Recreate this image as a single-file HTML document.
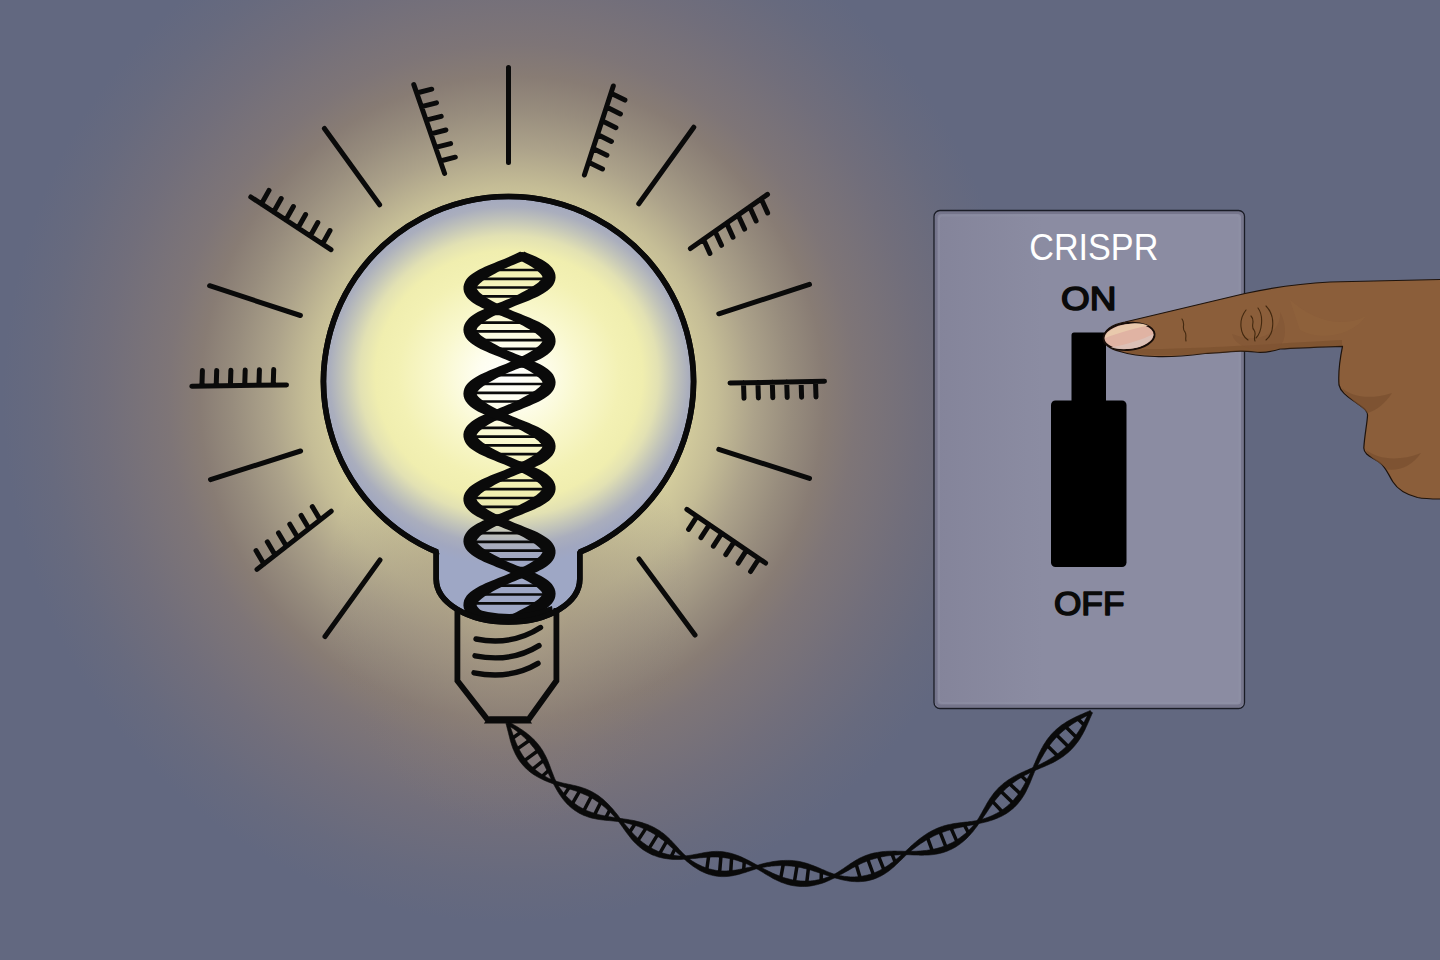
<!DOCTYPE html>
<html lang="en"><head><meta charset="utf-8"><title>CRISPR on/off switch</title>
<style>
html,body{margin:0;padding:0;background:#626880;}
body{width:1440px;height:960px;overflow:hidden;}
svg{display:block;}
text{font-family:"Liberation Sans",sans-serif;}
</style></head><body>
<svg width="1440" height="960" viewBox="0 0 1440 960">
<defs>
<radialGradient id="glow" gradientUnits="userSpaceOnUse" cx="512" cy="398" r="525" gradientTransform="translate(512 0) scale(0.97 1) translate(-512 0)">
<stop offset="0" stop-color="#e2dda6"/>
<stop offset="0.34" stop-color="#d4cd9d"/>
<stop offset="0.403" stop-color="#c5bd96"/>
<stop offset="0.476" stop-color="#aca28a"/>
<stop offset="0.55" stop-color="#978c7d"/>
<stop offset="0.613" stop-color="#887c74"/>
<stop offset="0.675" stop-color="#7e7577"/>
<stop offset="0.802" stop-color="#716e7b"/>
<stop offset="0.915" stop-color="#676a7e"/>
<stop offset="1" stop-color="#626880"/>
</radialGradient>
<radialGradient id="glow2" gradientUnits="userSpaceOnUse" cx="508" cy="600" r="180" gradientTransform="translate(0 600) scale(1 1.28) translate(0 -600)">
<stop offset="0" stop-color="#b0a388" stop-opacity="0.63"/>
<stop offset="0.35" stop-color="#9a8c7c" stop-opacity="0.52"/>
<stop offset="0.7" stop-color="#8a7d76" stop-opacity="0.25"/>
<stop offset="1" stop-color="#807678" stop-opacity="0"/>
</radialGradient>
<radialGradient id="bulb" gradientUnits="userSpaceOnUse" cx="509" cy="376" r="202" gradientTransform="translate(0 376) scale(1 0.94) translate(0 -376)">
<stop offset="0" stop-color="#ffffff"/>
<stop offset="0.15" stop-color="#fefef0"/>
<stop offset="0.35" stop-color="#f9f8ce"/>
<stop offset="0.55" stop-color="#f3f1b4"/>
<stop offset="0.66" stop-color="#f0eeaf"/>
<stop offset="0.74" stop-color="#e2e1b3"/>
<stop offset="0.82" stop-color="#c3c5b9"/>
<stop offset="0.89" stop-color="#aaaebd"/>
<stop offset="0.95" stop-color="#a1a7c0"/>
<stop offset="1" stop-color="#9ea7c5"/>
</radialGradient>
<linearGradient id="plate" x1="0" y1="0" x2="1" y2="0">
<stop offset="0" stop-color="#84849a"/>
<stop offset="0.35" stop-color="#8b8ca2"/>
<stop offset="1" stop-color="#8b8ca2"/>
</linearGradient>
<clipPath id="bulbclip"><path d="M437.2 552.2 A185 185 0 1 1 579.8 552.2 V579 C579.8 602 550 622 508.5 622 C467 622 436.2 602 436.2 579 V553.4 Z"/></clipPath>
</defs>
<rect width="1440" height="960" fill="#626880"/>
<rect width="1440" height="960" fill="url(#glow)"/>
<rect width="1440" height="960" fill="url(#glow2)"/>
<!-- bulb -->
<path id="bulbshape" d="M437.2 552.2 A185 185 0 1 1 579.8 552.2 V579 C579.8 602 550 622 508.5 622 C467 622 436.2 602 436.2 579 V553.4 Z" fill="url(#bulb)" stroke="#0a0a0a" stroke-width="5.6" stroke-linejoin="bevel"/>
<g clip-path="url(#bulbclip)"><path d="M490.6 270H545.6M475.8 278.8H548.8M470 287.5H541.5M474.7 296.3H525.7M488.7 305.1H505.6M486.5 313.9H508.2M473.6 322.6H528.1M470.2 331.4H543M477.3 340.2H549M492.9 348.9H544.5M513 357.7H530.7M511.2 366.5H532.2M491.3 375.2H545.3M476.3 384H548.9M470 392.8H542M474.3 401.5H526.4M488 410.3H506.4M487.2 419.1H507.4M473.9 427.9H527.3M470.1 436.6H542.5M476.8 445.4H548.9M492.2 454.2H544.9M512.2 462.9H531.4M512.1 471.7H531.5M492.1 480.5H544.9M476.7 489.2H548.9M470.1 498H542.4M474 506.8H527.2M487.3 515.6H507.2M487.9 524.3H506.5M474.3 533.1H526.5M470.1 541.9H542M476.3 550.6H548.9M491.4 559.4H545.2M511.3 568.2H532.1M512.9 577H530.8M492.8 585.7H544.5M477.2 594.5H549M470.2 603.3H542.9" fill="none" stroke="#0a0a0a" stroke-width="2.7"/><path d="M520 260.4L523 262L525.8 263.5L528.6 265L531.1 266.5L533.4 268L535.5 269.4L537.3 270.8L538.9 272.2L540.2 273.4L541.1 274.5L541.8 275.4L542.2 276.2L542.4 276.6L542.4 276.9L542.4 277L542.4 277.2L542.3 277.5L542.1 278.1L541.6 278.9L540.8 279.9L539.7 281.1L538.3 282.4L536.6 283.7L534.7 285.1L532.5 286.6L530.1 288.1L527.5 289.6L524.7 291.1L521.8 292.6L518.7 294.2L515.6 295.7L512.3 297.2L509.1 298.7L505.7 300.1L502.4 301.4L499 302.8L495.7 304.1L492.5 305.4L489.3 306.7L486.2 308L483.3 309.4L480.5 310.7L477.8 312.1L475.3 313.5L473 315L470.9 316.6L468.9 318.3L467.2 320.2L465.7 322.2L464.5 324.6L463.7 327.1L463.4 329.8L463.7 332.5L464.5 335L465.7 337.4L467.2 339.4L468.9 341.3L470.9 343L473 344.6L475.3 346.1L477.8 347.5L480.5 348.9L483.3 350.2L486.2 351.6L489.3 352.9L492.5 354.2L495.7 355.5L499 356.8L502.4 358.2L505.7 359.5L509.1 360.9L512.3 362.4L515.6 363.9L518.7 365.4L521.8 367L524.7 368.5L527.5 370L530.1 371.5L532.5 373L534.7 374.5L536.6 375.9L538.3 377.2L539.7 378.5L540.8 379.7L541.6 380.7L542.1 381.5L542.3 382.1L542.4 382.4L542.4 382.6L542.4 382.7L542.4 383L542.2 383.4L541.8 384.2L541.1 385.1L540.2 386.2L538.9 387.4L537.3 388.8L535.5 390.2L533.4 391.6L531.1 393.1L528.6 394.6L525.8 396.1L523 397.6L520 399.2L516.9 400.7L513.7 402.2L510.4 403.7L507.1 405.1L503.7 406.5L500.4 407.8L497 409.2L493.8 410.5L490.6 411.8L487.5 413.1L484.5 414.4L481.6 415.8L478.9 417.1L476.3 418.5L473.9 420L471.7 421.6L469.7 423.2L467.8 425L466.2 427L464.9 429.2L463.9 431.6L463.4 434.3L463.5 437L464.1 439.6L465.1 442L466.5 444.2L468.2 446.2L470 447.9L472.1 449.5L474.4 451.1L476.8 452.5L479.4 453.9L482.1 455.3L485 456.6L488 458L491.2 459.3L494.4 460.6L497.7 461.9L501 463.2L504.4 464.6L507.7 465.9L511 467.4L514.3 468.9L517.5 470.4L520.6 471.9L523.5 473.5L526.4 475L529 476.5L531.5 478L533.8 479.5L535.9 480.9L537.6 482.3L539.2 483.6L540.4 484.8L541.3 485.9L541.9 486.8L542.2 487.5L542.4 487.9L542.4 488.1L542.4 488.2L542.4 488.4L542.3 488.8L542 489.4L541.5 490.3L540.6 491.3L539.5 492.5L538 493.8L536.3 495.2L534.3 496.6L532 498.1L529.6 499.6L527 501.1L524.2 502.6L521.2 504.1L518.1 505.7L515 507.2L511.7 508.7L508.4 510.2L505.1 511.5L501.7 512.9L498.4 514.2L495.1 515.5L491.9 516.8L488.7 518.2L485.7 519.5L482.7 520.8L480 522.2L477.3 523.6L474.9 525L472.6 526.5L470.5 528.1L468.6 529.8L466.9 531.7L465.4 533.9L464.3 536.2L463.6 538.8L463.4 541.5L463.8 544.2L464.7 546.7L465.9 549L467.5 551L469.3 552.8L471.3 554.5L473.4 556.1L475.8 557.5L478.3 559L481 560.3L483.8 561.7L486.8 563L489.9 564.3L493.1 565.6L496.3 567L499.6 568.3L503 569.6L506.3 571L509.7 572.4L513 573.9L516.2 575.4L519.3 576.9L522.3 578.4L525.2 580L528 581.5L530.5 583L532.9 584.5L535.1 585.9L536.9 587.3L538.6 588.7L539.9 589.9L541 591.1L541.7 592.1L542.1 592.8L542.3 593.4L542.4 593.7L542.4 593.8L542.4 593.9L542.3 594.2L542.1 594.7L541.7 595.5L541 596.5L540 597.6L538.6 598.9L537 600.2L535.1 601.6L533 603.1L530.6 604.6L528.1 606.1L525.3 607.6L522.4 609.1L519.4 610.6L516.3 612.2L513.1 613.7L509.8 615.2L506.5 616.6L503.1 617.9L499.7 619.3L496.4 620.6L500.3 629.4L503.5 627.9L506.7 626.4L510 624.9L513.3 623.5L516.7 622.1L520 620.8L523.4 619.5L526.6 618.2L529.8 616.9L532.8 615.6L535.8 614.2L538.6 612.9L541.2 611.5L543.7 610L546 608.5L548.2 607L550.1 605.3L551.9 603.4L553.4 601.3L554.6 599L555.3 596.5L555.6 593.8L555.3 591.1L554.5 588.5L553.3 586.2L551.8 584.1L550.1 582.3L548.1 580.6L546 579L543.6 577.5L541.1 576.1L538.5 574.7L535.7 573.3L532.7 572L529.7 570.7L526.5 569.4L523.2 568.1L519.9 566.7L516.6 565.4L513.2 564.1L509.9 562.7L506.6 561.2L503.4 559.7L500.2 558.1L497.2 556.6L494.3 555.1L491.5 553.6L488.9 552.1L486.5 550.6L484.3 549.1L482.4 547.7L480.7 546.3L479.3 545.1L478.2 543.9L477.4 542.9L476.9 542.1L476.7 541.5L476.6 541.2L476.6 541L476.6 540.9L476.6 540.6L476.8 540.2L477.2 539.4L477.9 538.5L478.8 537.4L480.1 536.1L481.7 534.8L483.5 533.4L485.6 532L488 530.5L490.5 529L493.2 527.5L496.1 526L499.1 524.4L502.2 522.9L505.4 521.4L508.7 519.9L512 518.4L515.3 517.1L518.7 515.7L522 514.4L525.3 513.1L528.5 511.8L531.6 510.5L534.6 509.2L537.4 507.8L540.2 506.5L542.7 505L545.1 503.6L547.3 502L549.4 500.4L551.2 498.6L552.8 496.6L554.1 494.4L555.1 491.9L555.6 489.3L555.5 486.5L554.9 483.9L553.8 481.5L552.5 479.4L550.8 477.4L548.9 475.7L546.9 474L544.6 472.5L542.2 471L539.6 469.6L536.8 468.3L533.9 466.9L530.9 465.6L527.8 464.3L524.6 463L521.3 461.7L518 460.4L514.6 459L511.2 457.6L507.9 456.2L504.7 454.7L501.5 453.2L498.4 451.6L495.4 450.1L492.6 448.6L489.9 447.1L487.4 445.6L485.2 444.1L483.1 442.7L481.3 441.3L479.8 440L478.6 438.8L477.7 437.7L477.1 436.8L476.8 436.1L476.6 435.7L476.6 435.5L476.6 435.4L476.6 435.2L476.7 434.8L477 434.2L477.6 433.3L478.4 432.2L479.6 431.1L481 429.8L482.8 428.4L484.8 427L487 425.5L489.4 424L492.1 422.5L494.9 421L497.8 419.4L500.9 417.9L504.1 416.4L507.3 414.9L510.6 413.4L514 412L517.3 410.7L520.7 409.4L524 408L527.2 406.7L530.3 405.4L533.4 404.1L536.3 402.8L539.1 401.4L541.7 400L544.2 398.6L546.4 397.1L548.5 395.5L550.5 393.7L552.2 391.8L553.6 389.7L554.7 387.3L555.4 384.8L555.6 382L555.2 379.4L554.3 376.9L553.1 374.6L551.5 372.6L549.7 370.8L547.7 369.1L545.5 367.5L543.2 366L540.6 364.6L538 363.2L535.1 361.9L532.2 360.6L529.1 359.2L525.9 357.9L522.6 356.6L519.3 355.3L516 354L512.6 352.6L509.3 351.2L506 349.7L502.8 348.2L499.6 346.7L496.6 345.1L493.7 343.6L491 342.1L488.4 340.6L486.1 339.1L483.9 337.6L482 336.2L480.4 334.9L479.1 333.6L478 332.5L477.3 331.5L476.9 330.8L476.7 330.2L476.6 329.9L476.6 329.8L476.6 329.7L476.7 329.4L476.9 328.8L477.3 328.1L478 327.1L479.1 326L480.4 324.7L482 323.4L483.9 322L486.1 320.5L488.4 319L491 317.5L493.7 316L496.6 314.5L499.6 312.9L502.8 311.4L506 309.9L509.3 308.4L512.6 307L516 305.6L519.3 304.3L522.6 303L525.9 301.7L529.1 300.4L532.2 299L535.1 297.7L538 296.4L540.6 295L543.2 293.6L545.5 292.1L547.7 290.5L549.7 288.8L551.5 287L553.1 285L554.3 282.7L555.2 280.2L555.6 277.6L555.4 274.8L554.7 272.3L553.6 269.9L552.2 267.8L550.5 265.9L548.5 264.1L546.4 262.5L544.2 261L541.7 259.6L539.1 258.2L536.3 256.8L533.4 255.5L530.3 254.2L527.2 252.9L524 251.6Z" fill="#0a0a0a"/><path d="M520.4 251.5L517.3 253.1L514.1 254.6L510.9 256.1L507.6 257.5L504.2 258.9L500.8 260.2L497.5 261.6L494.2 262.9L491 264.2L487.9 265.5L484.9 266.8L482 268.2L479.3 269.5L476.7 270.9L474.3 272.4L472 273.9L470 275.6L468.1 277.3L466.4 279.3L465.1 281.5L464.1 283.9L463.5 286.5L463.5 289.2L464 291.9L465 294.3L466.3 296.5L467.9 298.5L469.8 300.3L471.8 301.9L474 303.5L476.4 304.9L479 306.3L481.7 307.7L484.6 309L487.6 310.4L490.7 311.7L493.9 313L497.2 314.3L500.5 315.6L503.9 317L507.2 318.3L510.6 319.8L513.8 321.3L517 322.8L520.1 324.3L523.1 325.8L526 327.4L528.7 328.9L531.2 330.4L533.5 331.9L535.6 333.3L537.4 334.7L539 336L540.2 337.3L541.2 338.4L541.8 339.3L542.2 340L542.4 340.5L542.4 340.7L542.4 340.8L542.4 341L542.3 341.3L542.1 341.9L541.5 342.8L540.7 343.8L539.6 344.9L538.2 346.2L536.5 347.6L534.6 349L532.4 350.5L530 352L527.4 353.5L524.6 355L521.6 356.5L518.6 358L515.4 359.6L512.2 361.1L508.9 362.5L505.6 364L502.2 365.3L498.9 366.6L495.5 367.9L492.3 369.3L489.1 370.6L486.1 371.9L483.2 373.2L480.4 374.6L477.7 376L475.2 377.4L472.9 378.9L470.8 380.5L468.8 382.2L467.1 384.1L465.6 386.1L464.4 388.5L463.7 391L463.4 393.7L463.7 396.4L464.5 399L465.7 401.3L467.2 403.3L469 405.2L471 406.9L473.1 408.4L475.4 409.9L477.9 411.4L480.6 412.8L483.4 414.1L486.4 415.4L489.4 416.8L492.6 418.1L495.8 419.4L499.2 420.7L502.5 422L505.9 423.4L509.2 424.8L512.5 426.3L515.7 427.8L518.9 429.3L521.9 430.8L524.8 432.4L527.6 433.9L530.2 435.4L532.6 436.9L534.8 438.3L536.7 439.7L538.4 441.1L539.7 442.4L540.8 443.5L541.6 444.5L542.1 445.3L542.3 445.9L542.4 446.2L542.4 446.4L542.4 446.5L542.4 446.8L542.2 447.3L541.8 448L541.1 448.9L540.1 450.1L538.8 451.3L537.3 452.6L535.4 454L533.3 455.5L531 456.9L528.4 458.4L525.7 460L522.8 461.5L519.8 463L516.7 464.5L513.5 466.1L510.3 467.6L506.9 469L503.6 470.4L500.2 471.7L496.9 473L493.6 474.3L490.4 475.6L487.3 476.9L484.3 478.3L481.5 479.6L478.8 481L476.2 482.4L473.8 483.9L471.6 485.4L469.6 487.1L467.8 488.9L466.2 490.9L464.9 493.1L463.9 495.6L463.4 498.2L463.5 500.9L464.1 503.6L465.2 506L466.6 508.1L468.3 510L470.1 511.8L472.2 513.4L474.5 514.9L476.9 516.4L479.5 517.8L482.3 519.2L485.1 520.5L488.2 521.8L491.3 523.1L494.5 524.4L497.8 525.8L501.1 527.1L504.5 528.4L507.9 529.8L511.2 531.3L514.4 532.8L517.6 534.3L520.7 535.8L523.7 537.3L526.5 538.9L529.2 540.4L531.6 541.9L533.9 543.3L535.9 544.8L537.7 546.2L539.2 547.5L540.4 548.7L541.3 549.7L541.9 550.6L542.3 551.3L542.4 551.7L542.4 551.9L542.4 552.1L542.4 552.2L542.3 552.6L542 553.3L541.4 554.1L540.6 555.2L539.4 556.4L537.9 557.7L536.2 559L534.2 560.5L531.9 561.9L529.5 563.4L526.8 564.9L524 566.5L521.1 568L518 569.5L514.8 571L511.6 572.5L508.3 574L504.9 575.4L501.6 576.8L498.2 578.1L494.9 579.4L491.7 580.7L488.6 582L485.5 583.3L482.6 584.7L479.8 586L477.2 587.4L474.8 588.9L472.5 590.4L470.4 592L468.5 593.7L466.8 595.6L465.4 597.8L464.2 600.1L463.6 602.7L463.4 605.4L463.8 608.1L464.7 610.6L466 612.9L467.6 614.9L469.3 616.7L471.3 618.4L473.5 619.9L475.9 621.4L478.4 622.8L481.1 624.2L484 625.6L486.9 626.9L490 628.2L493.2 629.5L497.3 620.5L494.4 619L491.6 617.4L489 615.9L486.6 614.4L484.4 613L482.4 611.6L480.8 610.2L479.3 608.9L478.2 607.8L477.4 606.7L476.9 605.9L476.7 605.3L476.6 605L476.6 604.8L476.6 604.7L476.6 604.5L476.8 604L477.2 603.3L477.8 602.3L478.8 601.2L480.1 600L481.6 598.7L483.5 597.3L485.5 595.8L487.8 594.4L490.4 592.9L493.1 591.3L495.9 589.8L498.9 588.3L502 586.8L505.2 585.3L508.5 583.8L511.8 582.3L515.2 580.9L518.5 579.6L521.9 578.3L525.1 577L528.3 575.7L531.5 574.4L534.4 573L537.3 571.7L540 570.3L542.6 568.9L545 567.4L547.2 565.9L549.3 564.2L551.1 562.5L552.7 560.5L554.1 558.3L555 555.8L555.5 553.2L555.5 550.5L554.9 547.8L553.9 545.4L552.5 543.2L550.9 541.3L549 539.5L547 537.9L544.7 536.4L542.3 534.9L539.7 533.5L537 532.1L534.1 530.8L531.1 529.5L527.9 528.2L524.7 526.9L521.4 525.5L518.1 524.2L514.7 522.9L511.4 521.5L508.1 520.1L504.8 518.6L501.6 517L498.5 515.5L495.6 514L492.7 512.5L490 510.9L487.5 509.4L485.3 508L483.2 506.5L481.4 505.1L479.9 503.8L478.7 502.6L477.7 501.5L477.1 500.6L476.8 499.9L476.6 499.5L476.6 499.3L476.6 499.2L476.6 499L476.7 498.6L477 498L477.5 497.1L478.4 496.1L479.5 494.9L481 493.6L482.7 492.3L484.7 490.8L486.9 489.4L489.3 487.9L492 486.4L494.8 484.8L497.7 483.3L500.8 481.8L503.9 480.3L507.2 478.8L510.5 477.3L513.8 475.9L517.2 474.5L520.5 473.2L523.8 471.9L527.1 470.6L530.2 469.3L533.2 468L536.2 466.6L538.9 465.3L541.6 463.9L544 462.4L546.3 460.9L548.5 459.3L550.4 457.6L552.1 455.7L553.6 453.6L554.7 451.3L555.4 448.7L555.6 446L555.2 443.3L554.4 440.8L553.1 438.5L551.6 436.5L549.8 434.6L547.8 433L545.6 431.4L543.3 429.9L540.8 428.5L538.1 427.1L535.3 425.7L532.3 424.4L529.2 423.1L526 421.8L522.8 420.5L519.5 419.2L516.1 417.8L512.8 416.5L509.4 415.1L506.1 413.6L502.9 412.1L499.8 410.5L496.8 409L493.9 407.5L491.1 406L488.5 404.4L486.2 403L484 401.5L482.1 400.1L480.5 398.8L479.1 397.5L478.1 396.4L477.3 395.4L476.9 394.6L476.7 394L476.6 393.7L476.6 393.6L476.6 393.5L476.7 393.2L476.8 392.7L477.3 391.9L478 390.9L479 389.8L480.3 388.6L481.9 387.2L483.8 385.8L486 384.4L488.3 382.9L490.9 381.4L493.6 379.9L496.5 378.3L499.5 376.8L502.6 375.3L505.8 373.8L509.1 372.3L512.4 370.9L515.8 369.5L519.2 368.2L522.5 366.8L525.7 365.5L528.9 364.2L532 362.9L535 361.6L537.8 360.2L540.5 358.9L543.1 357.4L545.4 356L547.6 354.4L549.6 352.7L551.4 350.9L553 348.9L554.3 346.6L555.2 344.2L555.6 341.5L555.4 338.8L554.8 336.2L553.7 333.8L552.2 331.7L550.5 329.8L548.6 328L546.5 326.4L544.3 324.9L541.8 323.4L539.2 322.1L536.4 320.7L533.5 319.4L530.5 318L527.3 316.7L524.1 315.4L520.8 314.1L517.5 312.8L514.1 311.4L510.8 310L507.5 308.6L504.2 307.1L501 305.6L498 304L495 302.5L492.2 301L489.6 299.5L487.1 298L484.9 296.5L482.8 295.1L481.1 293.7L479.6 292.4L478.5 291.2L477.6 290.1L477 289.3L476.7 288.6L476.6 288.2L476.6 288.1L476.6 287.9L476.6 287.7L476.7 287.3L477.1 286.6L477.7 285.8L478.6 284.7L479.8 283.5L481.3 282.2L483 280.8L485.1 279.4L487.3 277.9L489.8 276.4L492.5 274.9L495.3 273.4L498.3 271.8L501.3 270.3L504.5 268.8L507.8 267.3L511.1 265.8L514.4 264.4L517.8 263.1L521.1 261.8L524.4 260.5Z" fill="#0a0a0a"/><path d="M467 606 Q509 622 552 606 L556 630 H463 Z" fill="#0a0a0a"/><circle cx="522" cy="256.5" r="4.6" fill="#0a0a0a"/></g>
<path d="M437.2 552.2 A185 185 0 1 1 579.8 552.2 V579 C579.8 602 550 622 508.5 622 C467 622 436.2 602 436.2 579 V553.4 Z" fill="none" stroke="#0a0a0a" stroke-width="5.6" stroke-linejoin="bevel"/>
<!-- base -->
<path d="M457.4 608 V680.8 L487.5 719.5 H528.5 L556.4 680.8 V608" fill="none" stroke="#0a0a0a" stroke-width="5.8" stroke-linejoin="miter"/>
<path d="M483.8 723.6 L489.5 716.4 H526.5 L532.2 723.6 Z" fill="#0a0a0a"/>
<path d="M476 639 Q512 646 540.5 627.5 M475 655.8 Q511 663 539 645.6 M474 672.8 Q510 680 538 663.4" fill="none" stroke="#0a0a0a" stroke-width="5.4" stroke-linecap="round"/>
<path d="M508.5 67.5L508.5 162.5M324.4 128.5L379.6 204.8M693.8 127.2L638.8 203.8M209.6 285.7L300.4 315.5M809.5 284.4L718.8 313.8M210.5 479.6L300.6 451M718.8 449.4L809.5 478.4M380 560L325 636.5M639 559L695 635M413.8 84.6L444.6 173.5M416.7 93L431.7 89.2M421.4 106.6L436.5 102.8M426.1 120.2L441.2 116.4M430.9 133.8L445.9 130M435.6 147.4L450.6 143.6M440.3 161L455.3 157.2M613.3 86L584.4 175M611 93.2L624.9 100.1M606.5 107L620.4 113.9M602 120.8L615.9 127.7M597.5 134.6L611.4 141.5M593 148.4L606.9 155.2M588.6 162.2L602.5 169M250.8 197L331 249.6M261.4 204L269 190.4M273.6 212L281.2 198.5M285.8 220L293.4 206.5M298 228L305.6 214.5M310.3 236L317.8 222.5M322.5 244L330 230.5M767.5 194.4L690.4 248.5M761.2 198.8L767.6 212.9M749.7 206.9L756.1 221M738.1 215L744.6 229.1M726.6 223.1L733 237.2M715 231.2L721.5 245.3M703.5 239.3L709.9 253.4M191.8 386.2L286.5 384.9M201.9 386.1L202.4 370.6M216.2 385.9L216.7 370.4M230.4 385.7L230.9 370.2M244.7 385.5L245.2 370M258.9 385.3L259.4 369.8M273.2 385.1L273.7 369.6M824.5 381.3L730 383M815.5 381.5L816 397M801.1 381.7L801.6 397.2M786.7 382L787.2 397.5M772.3 382.2L772.8 397.7M757.9 382.5L758.4 398M743.5 382.8L744 398.3M257 569.4L331.2 511.2M263.9 564L256 550.6M275.2 555.2L267.3 541.8M286.4 546.3L278.5 533M297.7 537.5L289.8 524.2M309 528.7L301.1 515.4M320.2 519.9L312.3 506.6M765.6 563L686.9 509.4M759 558.5L750.6 571.5M746.6 550.1L738.2 563.1M734.2 541.6L725.8 554.6M721.8 533.2L713.4 546.2M709.4 524.7L701 537.7M697 516.3L688.6 529.3" fill="none" stroke="#0a0a0a" stroke-width="5.0" stroke-linecap="round"/>
<path d="M512.1 738.5L521.2 732M516.3 749.6L530.3 739.8M523.4 761.3L538.9 750M531.7 769.9L544.5 759.7M541.7 776.8L549.1 770M569.6 786.7L563.4 796.1M580.3 789.8L571.8 804.7M592 795L583.2 812M601.3 801.3L594 815.9M610.1 809.3L605.5 818.2M629.3 832.7L635.4 823.2M637.4 841.4L646.7 827.1M648.3 849.6L658.4 833.4M659.1 854.5L667.2 840.3M671 857.1L675.3 848.1M708.9 854.6L706.6 870.8M721.1 854.5L719.5 873.6M731.7 856.3L730.6 873.4M744.4 860.7L743.6 870.7M780.5 879.2L783.5 863.1M794.2 883L797.3 864.1M806.6 883.7L808.6 866.7M821.1 881.4L821.4 871.3M855.8 863.3L860.5 879M867.3 858L873.9 876M878 855L884.4 870.9M891.7 853.3L895.4 862.6M932.7 852L927.1 836.6M946.5 848.3L939.4 830.4M957.4 842.6L950.5 827M968.7 833.3L964 824.4M991.8 800.6L1002.9 812.5M1000.1 790.4L1013.8 803.8M1008.7 782.9L1021.2 794.6M1020.7 775.3L1028 782.3M1058.2 756.6L1046.7 745M1069.2 747.5L1055.6 734M1077.1 738.1L1064.9 726.1M1084.6 725.6L1077.5 718.5" fill="none" stroke="#0a0a0a" stroke-width="3.5"/><path d="M505.9 723.5L506.5 725.4L507 727.4L507.5 729.4L508 731.3L508.5 733.3L509 735.3L509.5 737.2L510 739.2L510.5 741.2L511.1 743.1L511.7 745L512.4 747L513.1 748.9L513.9 750.7L514.7 752.6L515.6 754.4L516.6 756.2L517.6 758L518.7 759.7L519.9 761.4L521.2 763.1L522.5 764.7L523.9 766.2L525.3 767.7L526.8 769.2L528.4 770.6L530 771.9L531.7 773.2L533.4 774.4L535.2 775.5L537 776.6L538.8 777.6L540.7 778.6L542.6 779.5L544.5 780.4L546.4 781.2L548.3 782L550.3 782.7L552.2 783.4L554.2 784.1L556.1 784.7L558 785.4L559.9 786L561.8 786.6L563.6 787.1L565.5 787.7L567.3 788.3L569.1 788.8L570.9 789.4L572.6 790L574.3 790.5L576 791.1L577.7 791.7L579.4 792.3L581 793L582.7 793.7L584.3 794.4L585.9 795.1L587.5 795.8L589 796.6L590.6 797.5L592.1 798.3L593.7 799.2L595.2 800.2L596.7 801.2L598.2 802.2L599.7 803.3L601.2 804.4L602.7 805.6L604.2 806.8L605.7 808.1L607.1 809.4L608.6 810.7L610 812.1L611.4 813.5L612.8 815L614.2 816.4L615.5 817.9L616.8 819.5L618.1 821L619.3 822.6L620.5 824.2L621.7 825.9L622.9 827.5L624 829.2L625.2 830.8L626.4 832.5L627.6 834.1L628.9 835.7L630.1 837.3L631.4 838.9L632.7 840.4L634.1 841.9L635.5 843.3L637 844.8L638.5 846.1L640.1 847.4L641.7 848.7L643.4 849.9L645.1 851L646.9 852.1L648.7 853.1L650.5 854L652.4 854.9L654.4 855.6L656.3 856.3L658.3 857L660.4 857.5L662.4 858L664.5 858.4L666.5 858.7L668.6 859L670.7 859.2L672.8 859.4L674.9 859.4L676.9 859.5L679 859.4L681.1 859.4L683.1 859.3L685.1 859.1L687.1 859L689.1 858.9L691 858.7L692.9 858.6L694.8 858.4L696.7 858.2L698.5 858L700.3 857.8L702.1 857.7L703.9 857.5L705.6 857.4L707.4 857.3L709.1 857.2L710.8 857.1L712.5 857L714.1 857L715.8 857L717.5 857.1L719.2 857.2L720.8 857.3L722.5 857.5L724.2 857.7L725.9 857.9L727.6 858.2L729.3 858.5L731 858.9L732.8 859.3L734.6 859.7L736.3 860.2L738.1 860.8L739.9 861.4L741.7 862L743.5 862.7L745.4 863.4L747.2 864.1L749 864.9L750.8 865.7L752.6 866.6L754.4 867.5L756.2 868.4L758 869.5L759.7 870.5L761.4 871.5L763.2 872.6L764.9 873.7L766.7 874.8L768.5 875.8L770.3 876.8L772.1 877.9L773.9 878.9L775.8 879.8L777.7 880.7L779.6 881.6L781.5 882.4L783.5 883.1L785.5 883.8L787.5 884.4L789.6 885L791.7 885.4L793.8 885.8L795.9 886.1L798 886.3L800.2 886.5L802.4 886.5L804.5 886.5L806.7 886.4L808.9 886.2L811 885.9L813.2 885.5L815.3 885.1L817.4 884.6L819.5 884L821.6 883.4L823.7 882.7L825.7 881.9L827.7 881.1L829.6 880.2L831.5 879.3L833.4 878.4L835.3 877.5L837.1 876.5L838.9 875.6L840.6 874.6L842.4 873.7L844.1 872.7L845.8 871.8L847.4 870.9L849.1 869.9L850.7 869L852.3 868.1L853.9 867.3L855.5 866.4L857.1 865.6L858.7 864.8L860.2 864L861.8 863.3L863.4 862.6L865 861.9L866.6 861.3L868.3 860.7L869.9 860.1L871.6 859.5L873.3 859L875 858.5L876.8 858L878.5 857.6L880.3 857.2L882.2 856.8L884 856.4L885.9 856.1L887.9 855.8L889.8 855.6L891.8 855.4L893.8 855.2L895.8 855L897.8 854.9L899.8 854.8L901.9 854.7L903.9 854.7L906 854.6L908 854.7L910.1 854.8L912.2 854.9L914.3 855L916.3 855L918.4 855.1L920.5 855.2L922.6 855.2L924.7 855.1L926.8 855.1L928.9 855L931 854.8L933.1 854.6L935.2 854.3L937.3 853.9L939.4 853.5L941.5 853L943.5 852.4L945.5 851.7L947.5 851L949.5 850.1L951.5 849.2L953.4 848.2L955.3 847.2L957.1 846L958.9 844.8L960.6 843.6L962.3 842.2L964 840.8L965.6 839.4L967.2 837.9L968.7 836.3L970.2 834.7L971.6 833.1L973 831.5L974.3 829.8L975.6 828.1L976.9 826.4L978.1 824.7L979.3 823L980.6 821.3L981.7 819.6L982.9 817.9L984 816.2L985.2 814.6L986.3 812.9L987.4 811.3L988.4 809.7L989.5 808.1L990.6 806.6L991.7 805L992.8 803.5L993.9 802L995 800.6L996.1 799.2L997.3 797.8L998.5 796.4L999.6 795L1000.9 793.7L1002.1 792.4L1003.4 791.1L1004.7 789.9L1006 788.6L1007.4 787.4L1008.9 786.2L1010.3 785L1011.8 783.8L1013.4 782.7L1015 781.5L1016.6 780.4L1018.3 779.3L1020 778.2L1021.7 777.2L1023.5 776.1L1025.3 775.1L1027.1 774.2L1029 773.2L1030.8 772.3L1032.7 771.4L1034.7 770.5L1036.6 769.7L1038.6 768.9L1040.5 768.1L1042.5 767.3L1044.5 766.4L1046.4 765.6L1048.4 764.7L1050.3 763.8L1052.3 762.9L1054.2 761.9L1056 760.9L1057.9 759.8L1059.7 758.7L1061.5 757.6L1063.2 756.4L1064.9 755.1L1066.6 753.8L1068.2 752.4L1069.8 751L1071.3 749.5L1072.7 748L1074.1 746.4L1075.5 744.8L1076.8 743.1L1078.1 741.4L1079.3 739.7L1080.4 737.9L1081.5 736L1082.6 734.2L1083.6 732.3L1084.6 730.4L1085.5 728.5L1086.4 726.5L1087.3 724.6L1088.2 722.6L1089.1 720.6L1089.9 718.6L1090.8 716.6L1091.6 714.7L1092.5 712.7L1089.5 711.3L1088.6 713.3L1087.6 715.2L1086.7 717.1L1085.7 719L1084.7 720.9L1083.7 722.8L1082.7 724.6L1081.7 726.4L1080.6 728.2L1079.5 729.9L1078.4 731.7L1077.3 733.3L1076.1 735L1074.9 736.6L1073.7 738.2L1072.5 739.7L1071.2 741.2L1069.9 742.7L1068.6 744.1L1067.2 745.5L1065.8 746.9L1064.4 748.2L1063 749.5L1061.5 750.8L1059.9 752L1058.4 753.2L1056.8 754.4L1055.2 755.6L1053.5 756.7L1051.8 757.8L1050.1 758.9L1048.3 759.9L1046.5 761L1044.7 762L1042.8 762.9L1041 763.9L1039.1 764.8L1037.2 765.7L1035.3 766.6L1033.3 767.5L1031.4 768.3L1029.4 769.1L1027.5 770L1025.5 770.8L1023.6 771.7L1021.6 772.6L1019.7 773.5L1017.8 774.4L1016 775.4L1014.1 776.4L1012.3 777.4L1010.6 778.5L1008.8 779.6L1007.1 780.7L1005.5 781.9L1003.9 783.1L1002.4 784.4L1000.9 785.7L999.4 787L998 788.4L996.7 789.9L995.4 791.3L994.1 792.8L993 794.3L991.8 795.9L990.7 797.5L989.6 799.1L988.6 800.7L987.6 802.3L986.6 804L985.7 805.7L984.7 807.4L983.8 809.1L982.8 810.8L981.9 812.5L980.9 814.2L979.9 816L978.9 817.7L977.8 819.4L976.7 821L975.4 822.7L974.2 824.3L972.9 825.9L971.5 827.4L970.1 828.9L968.7 830.4L967.2 831.8L965.7 833.2L964.1 834.5L962.5 835.8L960.9 837L959.3 838.2L957.6 839.3L956 840.4L954.3 841.4L952.5 842.4L950.8 843.3L949 844.1L947.2 844.9L945.4 845.7L943.6 846.3L941.8 847L939.9 847.6L938.1 848.1L936.2 848.6L934.3 849L932.3 849.4L930.4 849.8L928.4 850.1L926.4 850.4L924.4 850.6L922.4 850.8L920.4 850.9L918.4 851.1L916.3 851.2L914.3 851.3L912.2 851.3L910.2 851.3L908.1 851.4L906 851.4L904 851.3L901.9 851.2L899.8 851.2L897.7 851.2L895.6 851.1L893.6 851.1L891.5 851.2L889.5 851.2L887.4 851.3L885.4 851.4L883.4 851.6L881.4 851.8L879.4 852.1L877.5 852.4L875.5 852.7L873.6 853.1L871.8 853.6L869.9 854.1L868.1 854.7L866.3 855.3L864.5 856L862.8 856.7L861.1 857.5L859.4 858.3L857.8 859.2L856.2 860.1L854.6 861.1L853 862.1L851.4 863.1L849.8 864.1L848.3 865.2L846.7 866.2L845.2 867.3L843.6 868.4L842 869.4L840.4 870.5L838.8 871.6L837.2 872.6L835.5 873.6L833.7 874.5L832 875.4L830.1 876.2L828.3 876.9L826.3 877.6L824.4 878.3L822.5 878.8L820.5 879.3L818.5 879.8L816.5 880.1L814.5 880.5L812.5 880.7L810.5 880.9L808.5 881L806.5 881.1L804.5 881.1L802.5 881L800.5 880.9L798.6 880.7L796.6 880.5L794.7 880.2L792.8 879.9L790.9 879.5L789 879L787.1 878.5L785.2 878L783.3 877.4L781.5 876.7L779.6 876.1L777.8 875.3L775.9 874.6L774.1 873.8L772.3 873L770.5 872.1L768.6 871.2L766.8 870.3L765 869.4L763.2 868.4L761.4 867.5L759.6 866.5L757.8 865.6L756 864.6L754.2 863.5L752.4 862.6L750.6 861.6L748.8 860.6L747 859.7L745.2 858.8L743.4 857.9L741.6 857.1L739.7 856.3L737.9 855.6L736.1 854.9L734.2 854.3L732.4 853.7L730.5 853.2L728.7 852.8L726.8 852.4L725 852.1L723.1 851.8L721.3 851.6L719.5 851.5L717.6 851.4L715.8 851.4L714 851.5L712.2 851.6L710.4 851.8L708.6 852L706.8 852.2L705.1 852.5L703.3 852.8L701.5 853.2L699.7 853.5L697.9 853.9L696.1 854.2L694.3 854.5L692.4 854.9L690.6 855.2L688.7 855.5L686.8 855.7L684.9 855.9L683 855.9L681 855.9L679.1 855.9L677.1 855.8L675.1 855.6L673.2 855.3L671.2 855L669.3 854.7L667.4 854.3L665.5 853.8L663.6 853.3L661.8 852.7L660 852L658.2 851.4L656.4 850.6L654.7 849.8L653 849L651.4 848.1L649.7 847.2L648.1 846.2L646.6 845.2L645 844.1L643.5 843L642.1 841.9L640.6 840.7L639.2 839.5L637.8 838.2L636.4 836.9L635 835.5L633.7 834.2L632.3 832.7L631 831.3L629.7 829.8L628.4 828.3L627.1 826.8L625.8 825.3L624.5 823.7L623.2 822.1L622 820.6L620.7 819L619.4 817.4L618.2 815.7L616.9 814.1L615.6 812.5L614.3 810.9L613 809.3L611.6 807.8L610.2 806.3L608.8 804.8L607.4 803.3L605.9 801.9L604.5 800.6L603 799.2L601.4 798L599.9 796.8L598.3 795.6L596.6 794.5L595 793.5L593.3 792.5L591.6 791.6L589.9 790.7L588.2 789.9L586.5 789.2L584.7 788.5L582.9 787.9L581.1 787.3L579.3 786.8L577.5 786.3L575.7 785.8L573.9 785.4L572 785L570.2 784.6L568.3 784.2L566.5 783.8L564.6 783.4L562.7 783L560.9 782.5L559 782L557.1 781.5L555.2 780.9L553.4 780.3L551.6 779.5L549.7 778.7L547.9 777.9L546.2 776.9L544.4 776L542.7 775L541.1 773.9L539.4 772.8L537.8 771.6L536.3 770.4L534.8 769.2L533.3 767.9L531.9 766.6L530.6 765.3L529.3 763.9L528 762.5L526.8 761L525.7 759.6L524.5 758.1L523.5 756.6L522.4 755L521.5 753.4L520.5 751.8L519.6 750.2L518.7 748.5L517.9 746.8L517.1 745.1L516.3 743.3L515.6 741.5L514.9 739.7L514.2 737.9L513.5 736L512.8 734.1L512.2 732.2L511.5 730.3L510.9 728.4L510.3 726.4L509.7 724.5L509.1 722.5ZM506.7 724.4L508.4 725.5L510.1 726.6L511.8 727.7L513.5 728.8L515.2 730L516.8 731.2L518.4 732.5L519.9 733.7L521.5 735L522.9 736.3L524.4 737.6L525.8 739L527.1 740.3L528.4 741.7L529.7 743.1L531 744.4L532.1 745.9L533.3 747.3L534.4 748.7L535.5 750.2L536.5 751.6L537.5 753.1L538.5 754.6L539.4 756.1L540.4 757.7L541.3 759.3L542.1 760.8L543 762.4L543.8 764.1L544.7 765.7L545.5 767.4L546.3 769.1L547.2 770.8L548 772.6L548.8 774.3L549.7 776.1L550.5 777.9L551.4 779.6L552.3 781.4L553.2 783.2L554.1 785.1L555.1 786.9L556.1 788.7L557.1 790.5L558.2 792.3L559.3 794.1L560.5 795.8L561.7 797.5L562.9 799.1L564.3 800.8L565.6 802.3L567.1 803.9L568.5 805.3L570.1 806.7L571.6 808.1L573.3 809.3L574.9 810.5L576.6 811.6L578.4 812.7L580.2 813.7L582 814.6L583.8 815.4L585.7 816.1L587.6 816.8L589.5 817.4L591.4 818L593.4 818.4L595.3 818.8L597.3 819.2L599.2 819.5L601.2 819.8L603.2 820L605.2 820.3L607.2 820.4L609.2 820.6L611.2 820.8L613.2 821L615.2 821.2L617.2 821.4L619.2 821.6L621.2 822L623.1 822.3L625.1 822.7L627.1 823.2L629.1 823.7L631 824.2L632.9 824.7L634.8 825.3L636.7 825.9L638.6 826.6L640.4 827.3L642.2 828L643.9 828.7L645.7 829.5L647.4 830.3L649 831.2L650.7 832L652.2 832.9L653.8 833.8L655.3 834.8L656.9 835.8L658.3 836.8L659.8 837.8L661.2 838.9L662.7 839.9L664.1 841.1L665.5 842.2L666.9 843.4L668.3 844.6L669.6 845.8L671 847L672.4 848.3L673.8 849.6L675.2 850.9L676.6 852.2L678 853.5L679.5 854.8L680.9 856.1L682.4 857.4L683.9 858.7L685.4 860.1L686.9 861.4L688.5 862.7L690.1 864L691.7 865.2L693.3 866.4L695 867.5L696.7 868.6L698.5 869.7L700.2 870.7L702 871.6L703.9 872.4L705.7 873.2L707.6 873.9L709.5 874.6L711.4 875.1L713.4 875.6L715.3 875.9L717.3 876.2L719.2 876.4L721.2 876.6L723.1 876.6L725.1 876.6L727 876.4L729 876.3L730.9 876L732.8 875.7L734.7 875.3L736.6 874.9L738.5 874.4L740.4 873.9L742.3 873.3L744.1 872.8L746 872.2L747.9 871.5L749.8 870.9L751.7 870.3L753.6 869.7L755.5 869.1L757.4 868.6L759.4 868.1L761.4 867.7L763.4 867.3L765.4 867L767.4 866.6L769.4 866.4L771.5 866.1L773.5 866L775.5 865.8L777.5 865.7L779.5 865.6L781.5 865.6L783.5 865.6L785.5 865.7L787.4 865.8L789.3 865.9L791.2 866.1L793.1 866.3L795 866.6L796.9 866.9L798.7 867.2L800.6 867.5L802.4 867.9L804.2 868.4L806 868.8L807.8 869.3L809.7 869.8L811.5 870.3L813.3 870.9L815.1 871.5L816.9 872.1L818.8 872.7L820.6 873.3L822.5 873.9L824.4 874.5L826.3 875.2L828.2 875.8L830.1 876.4L832.1 877L834 877.6L836 878.2L838 878.7L840 879.3L842 879.8L844.1 880.2L846.1 880.6L848.2 881L850.3 881.3L852.4 881.5L854.5 881.6L856.6 881.7L858.7 881.7L860.7 881.6L862.8 881.4L864.9 881.2L866.9 880.9L869 880.4L871 879.9L872.9 879.4L874.9 878.7L876.8 877.9L878.7 877.1L880.5 876.2L882.3 875.2L884 874.2L885.8 873.1L887.4 872L889.1 870.8L890.7 869.5L892.2 868.2L893.8 866.9L895.3 865.5L896.8 864.1L898.3 862.7L899.7 861.3L901.2 859.9L902.7 858.5L904.1 857L905.6 855.6L907.1 854.2L908.7 852.9L910.2 851.5L911.8 850.2L913.4 849L915.1 847.7L916.7 846.5L918.4 845.3L920 844.1L921.7 843L923.4 841.9L925.1 840.8L926.8 839.8L928.5 838.8L930.2 837.9L931.9 837L933.6 836.1L935.3 835.3L937 834.5L938.8 833.8L940.5 833.1L942.2 832.4L944 831.8L945.7 831.2L947.5 830.6L949.3 830.1L951.1 829.6L953 829.1L954.8 828.6L956.7 828.1L958.6 827.7L960.5 827.3L962.4 826.9L964.3 826.5L966.3 826.1L968.3 825.7L970.3 825.3L972.3 824.9L974.3 824.5L976.3 824L978.3 823.6L980.4 823.2L982.4 822.8L984.5 822.3L986.6 821.8L988.6 821.2L990.6 820.6L992.7 819.9L994.7 819.2L996.7 818.4L998.6 817.6L1000.5 816.7L1002.4 815.8L1004.3 814.7L1006.1 813.7L1007.9 812.5L1009.6 811.3L1011.2 810L1012.8 808.7L1014.4 807.3L1015.9 805.8L1017.3 804.3L1018.6 802.7L1019.9 801.1L1021.1 799.5L1022.3 797.8L1023.4 796.1L1024.5 794.3L1025.5 792.5L1026.4 790.7L1027.3 788.8L1028.2 786.9L1029 785.1L1029.9 783.2L1030.7 781.2L1031.5 779.3L1032.2 777.4L1033 775.5L1033.8 773.5L1034.6 771.6L1035.5 769.7L1036.4 767.8L1037.3 765.9L1038.3 764L1039.3 762.1L1040.2 760.3L1041.2 758.5L1042.3 756.7L1043.3 754.9L1044.4 753.1L1045.4 751.4L1046.5 749.7L1047.7 748.1L1048.8 746.4L1050 744.8L1051.2 743.3L1052.4 741.8L1053.7 740.3L1055 738.8L1056.3 737.4L1057.6 736L1059 734.6L1060.5 733.3L1061.9 732L1063.4 730.7L1064.9 729.5L1066.5 728.2L1068.1 727L1069.7 725.9L1071.4 724.7L1073.1 723.6L1074.9 722.5L1076.6 721.4L1078.4 720.4L1080.3 719.3L1082.1 718.3L1084 717.3L1085.9 716.3L1087.8 715.4L1089.7 714.4L1091.7 713.5L1090.3 710.5L1088.3 711.4L1086.4 712.2L1084.4 713.1L1082.4 714L1080.4 714.8L1078.4 715.7L1076.5 716.6L1074.5 717.6L1072.6 718.5L1070.7 719.5L1068.8 720.6L1067 721.6L1065.2 722.8L1063.4 723.9L1061.6 725.1L1059.9 726.4L1058.3 727.7L1056.7 729.1L1055.1 730.5L1053.6 732L1052.1 733.5L1050.7 735.1L1049.4 736.7L1048.1 738.3L1046.8 740L1045.7 741.8L1044.5 743.5L1043.4 745.3L1042.4 747.2L1041.3 749L1040.4 750.9L1039.4 752.8L1038.5 754.7L1037.6 756.7L1036.8 758.6L1035.9 760.5L1035.1 762.5L1034.2 764.4L1033.4 766.4L1032.5 768.3L1031.6 770.2L1030.7 772.1L1029.8 774L1028.9 775.9L1027.9 777.7L1027 779.6L1026.1 781.4L1025.1 783.1L1024.1 784.9L1023.2 786.6L1022.1 788.3L1021.1 789.9L1020.1 791.5L1019 793.1L1017.9 794.7L1016.7 796.2L1015.5 797.6L1014.3 799.1L1013.1 800.5L1011.8 801.8L1010.4 803.2L1009.1 804.5L1007.7 805.7L1006.2 806.9L1004.7 808.1L1003.2 809.2L1001.6 810.3L999.9 811.4L998.3 812.4L996.5 813.4L994.8 814.3L993 815.2L991.2 816L989.3 816.8L987.4 817.5L985.5 818.2L983.6 818.8L981.6 819.4L979.6 819.9L977.7 820.4L975.7 820.8L973.7 821.1L971.7 821.4L969.7 821.6L967.7 821.9L965.7 822.1L963.7 822.3L961.7 822.6L959.7 822.8L957.7 823.1L955.8 823.3L953.8 823.6L951.8 824L949.9 824.4L947.9 824.8L946 825.3L944.1 825.8L942.2 826.4L940.3 827.1L938.4 827.8L936.5 828.6L934.7 829.4L932.9 830.3L931.1 831.2L929.3 832.2L927.5 833.3L925.8 834.4L924.1 835.6L922.4 836.8L920.7 838L919 839.3L917.4 840.6L915.8 841.9L914.2 843.3L912.6 844.7L911 846.1L909.5 847.5L908 849L906.4 850.4L904.9 851.8L903.3 853.1L901.8 854.5L900.3 855.8L898.7 857.2L897.2 858.4L895.6 859.7L894 861L892.5 862.2L890.9 863.3L889.3 864.5L887.8 865.6L886.2 866.6L884.6 867.6L882.9 868.6L881.3 869.5L879.7 870.4L878 871.2L876.3 872L874.6 872.7L872.9 873.3L871.2 873.9L869.4 874.5L867.6 875L865.8 875.4L864 875.8L862.1 876.2L860.3 876.4L858.4 876.7L856.5 876.8L854.5 876.9L852.6 876.9L850.6 876.9L848.6 876.8L846.7 876.6L844.7 876.4L842.7 876.1L840.8 875.8L838.8 875.4L836.9 874.9L835 874.4L833.1 873.8L831.2 873.1L829.4 872.4L827.6 871.7L825.8 870.9L824 870.1L822.2 869.4L820.4 868.6L818.6 867.8L816.8 867L814.9 866.3L813.1 865.6L811.3 864.9L809.4 864.2L807.5 863.6L805.6 863L803.7 862.5L801.7 862L799.8 861.6L797.8 861.2L795.8 860.9L793.8 860.7L791.7 860.5L789.7 860.4L787.6 860.4L785.5 860.4L783.4 860.5L781.3 860.6L779.2 860.8L777.1 861L775 861.3L772.9 861.6L770.9 862L768.8 862.4L766.7 862.8L764.6 863.3L762.6 863.8L760.6 864.3L758.6 864.9L756.6 865.4L754.6 865.9L752.6 866.4L750.7 866.9L748.8 867.4L746.8 867.8L744.9 868.3L743.1 868.7L741.2 869.1L739.3 869.4L737.5 869.8L735.7 870.1L733.8 870.3L732 870.5L730.3 870.7L728.5 870.8L726.7 870.9L724.9 871L723.2 870.9L721.4 870.9L719.7 870.8L717.9 870.6L716.2 870.4L714.5 870.1L712.7 869.7L711 869.3L709.2 868.9L707.5 868.3L705.7 867.8L704 867.1L702.3 866.4L700.6 865.6L698.9 864.8L697.2 863.9L695.5 863L693.9 862L692.2 861L690.7 859.9L689.1 858.7L687.6 857.5L686.1 856.3L684.7 855L683.3 853.6L682 852.2L680.6 850.8L679.3 849.4L678.1 848L676.8 846.6L675.5 845.2L674.2 843.8L672.9 842.4L671.6 841L670.3 839.7L668.9 838.3L667.5 837L666.1 835.7L664.7 834.5L663.2 833.3L661.6 832.2L660 831L658.4 830L656.7 829L655 828L653.2 827.1L651.5 826.2L649.6 825.4L647.8 824.6L645.9 823.9L643.9 823.3L642 822.6L640 822.1L638 821.6L636 821.1L634 820.6L631.9 820.2L629.9 819.9L627.8 819.5L625.8 819.2L623.7 818.9L621.7 818.6L619.6 818.4L617.6 818.1L615.6 817.8L613.6 817.4L611.6 817.1L609.7 816.8L607.7 816.5L605.8 816.1L603.9 815.7L602 815.3L600.1 814.9L598.3 814.4L596.5 813.9L594.7 813.4L592.9 812.8L591.2 812.2L589.4 811.6L587.7 810.9L586.1 810.2L584.4 809.4L582.8 808.6L581.2 807.7L579.6 806.8L578 805.9L576.5 804.8L575 803.8L573.5 802.6L572 801.4L570.6 800.2L569.1 798.9L567.8 797.6L566.4 796.2L565.1 794.7L563.8 793.2L562.6 791.7L561.4 790.1L560.2 788.5L559.1 786.9L558.1 785.2L557.1 783.5L556.2 781.8L555.3 780L554.5 778.2L553.8 776.4L553.1 774.6L552.4 772.8L551.7 771L551 769.2L550.4 767.4L549.7 765.6L549 763.8L548.3 762L547.6 760.3L546.8 758.5L546 756.8L545.1 755.1L544.2 753.4L543.3 751.7L542.3 750.1L541.2 748.4L540.1 746.8L538.9 745.3L537.7 743.7L536.4 742.2L535.1 740.7L533.7 739.3L532.2 737.9L530.7 736.5L529.2 735.2L527.6 733.9L525.9 732.6L524.3 731.4L522.6 730.2L520.8 729.1L519.1 727.9L517.3 726.8L515.5 725.7L513.7 724.7L511.9 723.6L510.1 722.6L508.3 721.6Z" fill="#0a0a0a" stroke="#0a0a0a" stroke-width="0.6" stroke-linejoin="round"/>
<!-- switch plate -->
<rect x="934" y="210.5" width="310.5" height="498" rx="6" fill="url(#plate)"/>
<rect x="936" y="212.5" width="306.5" height="493.5" rx="5" fill="none" stroke="#707187" stroke-width="3" opacity="0.8"/>
<rect x="939" y="215.5" width="300.5" height="487.5" rx="3.5" fill="none" stroke="#9394a9" stroke-width="2" opacity="0.35"/>
<rect x="934" y="210.5" width="310.5" height="498" rx="6" fill="none" stroke="#1a1c26" stroke-width="1.3"/>
<text x="1093.8" y="260.2" font-size="37" fill="#ffffff" text-anchor="middle" textLength="129" lengthAdjust="spacingAndGlyphs">CRISPR</text>
<text x="1088.8" y="310.2" font-size="34" fill="#0a0a0a" stroke="#0a0a0a" stroke-width="1.6" stroke-linejoin="round" text-anchor="middle" textLength="55.5" lengthAdjust="spacingAndGlyphs">ON</text>
<text x="1089.2" y="615.2" font-size="34" fill="#0a0a0a" stroke="#0a0a0a" stroke-width="1.6" stroke-linejoin="round" text-anchor="middle" textLength="70.5" lengthAdjust="spacingAndGlyphs">OFF</text>
<rect x="1071.5" y="332.5" width="34.5" height="80" rx="2.5" fill="#000"/>
<rect x="1051" y="400.5" width="75.5" height="166.5" rx="4.5" fill="#000"/>
<!-- hand -->
<path d="M1104 338 C1104 330 1112 324.5 1125 322 L1245 293.5 C1275 287 1300 283.5 1330 282 L1441 279.5 L1441 499 C1433 499 1425 499 1417.5 497.5 C1406 494.5 1398 490 1393 482 C1388 474 1386 467 1379 462 C1372 457 1364 455 1363.8 448 C1364.5 436 1367 424 1367.5 416 C1368 411 1364 408 1358 404 C1352 399 1341 394 1339 385 C1338 372 1340.5 356 1342.5 346.3 C1320 347 1300 347.5 1280 349 C1270 352 1262 353 1255 352 C1250 351.5 1245 351 1240 351.2 C1225 352 1215 353 1205 353.5 C1185 356 1165 357 1155 356.5 C1140 356 1128 354 1120 351.5 C1110 349 1104 344 1104 338 Z" fill="#8b5e3a" stroke="#1e130c" stroke-width="1.2" stroke-linejoin="round"/>
<path d="M1342 388 C1352 397 1370 400 1392 393 C1385 404 1377 410 1367.5 413 C1365 408 1346 398 1342 388 Z" fill="#7a5030" opacity="0.75"/>
<path d="M1366 450 C1378 459 1398 462 1421 453 C1412 466 1400 471 1387 469.5 C1381 462 1368 458 1366 450 Z" fill="#7a5030" opacity="0.75"/>
<path d="M1125 352.5 C1150 357 1190 355.5 1240 351.2 C1250 351 1262 353 1280 349 L1342 346.3 L1342 340 C1300 342 1200 349 1150 349 C1140 349 1130 351 1125 352.5 Z" fill="#6e4526" opacity="0.35"/>
<path d="M1232 334 C1236 350 1262 352 1278 348 C1288 340 1286 322 1280 312 C1282 330 1262 346 1232 334 Z" fill="#7f5433" opacity="0.5"/>
<path d="M1290 300 C1310 318 1340 330 1366 316 C1350 338 1318 340 1300 330 Z" fill="#94673f" opacity="0.35"/>
<g transform="rotate(-5.5 1129 336.4)"><ellipse cx="1129" cy="336.4" rx="25.6" ry="13.5" fill="#e0b3a3" stroke="#170d08" stroke-width="2"/>
<path d="M1104.6 336 C1107 328 1120 323.6 1134 323.8 C1141 324 1146 325.5 1149 327.5 C1135 329 1118 332 1104.6 336 Z" fill="#e9c9ac"/>
<path d="M1153.6 336.4 C1153 343 1142 348.6 1129 348.9 C1121 349 1114 347.5 1110 345.5 C1125 344.5 1142 341 1153.6 336.4 Z" fill="#dcc1b8" opacity="0.9"/></g>
<path d="M1182 319 C1186 324 1181 328 1185 332 C1187 335 1185 338 1186 341 M1251 316 C1256 321 1250 326 1254 330 C1257 334 1253 337 1255 341 M1246 310 C1238 320 1240 335 1248 340 M1258 308 C1264 316 1262 332 1256 338 M1266 306 C1276 316 1274 334 1266 340" fill="none" stroke="#42280f" stroke-width="1.1" stroke-linecap="round"/>

</svg>
</body></html>
